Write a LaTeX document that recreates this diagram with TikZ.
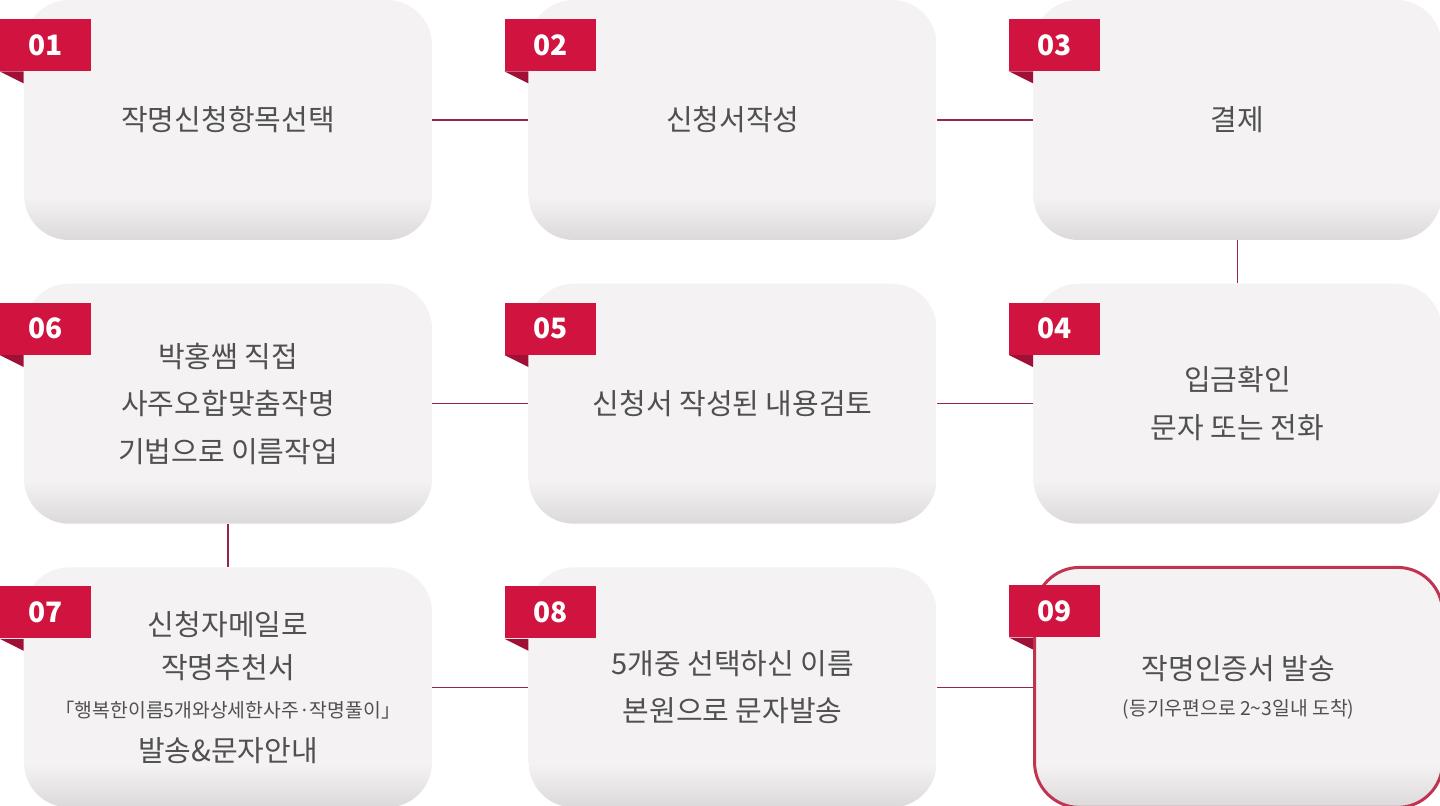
\documentclass[tikz,border=0pt]{standalone}
\usepackage{fontspec}
\setmainfont{Noto Sans CJK KR}
\usepackage{xcolor}
\usepackage{tikz}
\usetikzlibrary{positioning,calc}

\definecolor{tagred}{HTML}{D0143F}
\definecolor{tagfold}{HTML}{9E1035}
\definecolor{boxtop}{HTML}{F4F2F3}
\definecolor{boxbot}{HTML}{DCD9DB}
\definecolor{linkred}{HTML}{9A2448}
\definecolor{txtgray}{HTML}{505050}
\definecolor{lastred}{HTML}{C23352}

\pgfdeclareverticalshading{boxfade}{100bp}{color(0bp)=(boxbot); color(25bp)=(boxbot); color(34bp)=(boxtop); color(75bp)=(boxtop); color(100bp)=(boxtop)}

\begin{document}
\begin{tikzpicture}[
  stepbox/.style={rounded corners=0.9cm, minimum width=8.16cm, minimum height=4.8cm, shading=boxfade, align=center, text=txtgray, inner sep=0, font=\fontsize{16.5}{27}\selectfont},
  lastbox/.style={stepbox, draw=lastred, line width=1.7pt},
  tagbox/.style={fill=tagred, text=white, anchor=north west, minimum width=1.82cm, minimum height=1.04cm, inner sep=0, font=\fontsize{16}{16}\selectfont\bfseries},
  link/.style={draw=linkred, line width=0.6pt}]
\useasboundingbox (0,0) rectangle (28.8,-16.12);
\node[stepbox] (b1) at (4.56,-2.4) {작명신청항목선택};
\node[stepbox, right=1.92cm of b1] (b2) {신청서작성};
\node[stepbox, right=1.92cm of b2] (b3) {결제};
\node[stepbox, below=0.86cm of b3] (b4) {입금확인\\문자 또는 전화};
\node[stepbox, left=1.92cm of b4] (b5) {신청서 작성된 내용검토};
\node[stepbox, left=1.92cm of b5] (b6) {박홍쌤 직접\\사주오합맞춤작명\\기법으로 이름작업};
\node[stepbox, below=0.86cm of b6] (b7) {신청자메일로\\[-2pt]작명추천서\\[-5pt]{\fontsize{11}{12}\selectfont 「행복한이름5개와상세한사주·작명풀이」}\\[-2pt]발송\&문자안내};
\node[stepbox, right=1.92cm of b7] (b8) {5개중 선택하신 이름\\본원으로 문자발송};
\node[lastbox, right=1.92cm of b8] (b9) {작명인증서 발송\\[-6pt]{\fontsize{11}{12}\selectfont (등기우편으로 2\textasciitilde3일내 도착)}};
\draw[link] (b1)--(b2);
\draw[link] (b2)--(b3);
\draw[link] (b3)--(b4);
\draw[link] (b4)--(b5);
\draw[link] (b5)--(b6);
\draw[link] (b6)--(b7);
\draw[link] (b7)--(b8);
\draw[link] (b8)--(b9);
% number tags with folded corner
\foreach \b/\n in {b1/01,b2/02,b3/03,b4/04,b5/05,b6/06,b7/07,b8/08,b9/09}{
  \node[tagbox] (t\n) at ($(\b.north west)+(-0.48,-0.38)$) {\n};
  \fill[tagfold] (t\n.south west) -- ++(0.48,0) -- ++(0,-0.24) -- cycle;
}
\end{tikzpicture}
\end{document}
